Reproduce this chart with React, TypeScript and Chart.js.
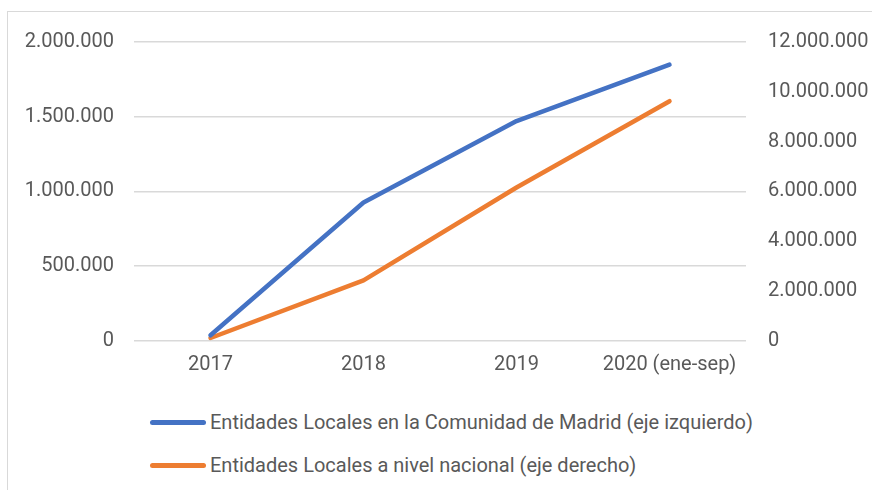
import React, { useEffect, useRef } from "react";
import { Chart, registerables } from "chart.js";

Chart.register(...registerables);

const categories = ["2017", "2018", "2019", "2020 (ene-sep)"];
const madridValues = [35000, 925000, 1470000, 1848000];
const nacionalValues = [100000, 2420000, 6150000, 9620000];
const leftTicks = [0, 500000, 1000000, 1500000, 2000000];
const rightTicks = [0, 2000000, 4000000, 6000000, 8000000, 10000000, 12000000];
const seriesNames = [
  "Entidades Locales en la Comunidad de Madrid (eje izquierdo)",
  "Entidades Locales a nivel nacional (eje derecho)",
];
const seriesColors = ["#4472C4", "#ED7D31"];

const FONT = "Roboto, 'Liberation Sans', sans-serif";
const FS = 20;
const TEXT = "#595959";

const fmt = (v: number) => Math.round(v).toString().replace(/\B(?=(\d{3})+(?!\d))/g, ".");

export default function App() {
  const ref = useRef<HTMLCanvasElement | null>(null);

  useEffect(() => {
    document.body.style.margin = "0";
    document.body.style.overflow = "hidden";
    const canvas = ref.current;
    if (!canvas) return;
    const chart = new Chart(canvas, {
      type: "line",
      data: {
        labels: categories,
        datasets: [
          {
            label: seriesNames[0],
            data: madridValues,
            borderColor: seriesColors[0],
            backgroundColor: seriesColors[0],
            borderWidth: 4.5,
            borderCapStyle: "round",
            borderJoinStyle: "round",
            pointRadius: 0,
            yAxisID: "y",
          },
          {
            label: seriesNames[1],
            data: nacionalValues,
            borderColor: seriesColors[1],
            backgroundColor: seriesColors[1],
            borderWidth: 4.5,
            borderCapStyle: "round",
            borderJoinStyle: "round",
            pointRadius: 0,
            yAxisID: "y1",
          },
        ],
      },
      options: {
        animation: false,
        responsive: false,
        maintainAspectRatio: false,
        layout: { padding: { top: 14, left: 0, right: 0, bottom: 0 } },
        plugins: { legend: { display: false }, tooltip: { enabled: false } },
        scales: {
          x: {
            offset: true,
            afterFit: (s: any) => {
              s.height = 51.5;
            },
            grid: { display: false, drawTicks: false },
            border: { display: false },
            ticks: {
              color: TEXT,
              font: { family: FONT, size: FS },
              padding: 12,
              maxRotation: 0,
              autoSkip: false,
            },
          },
          y: {
            position: "left",
            min: 0,
            max: 2000000,
            afterBuildTicks: (s: any) => {
              s.ticks = leftTicks.map((v) => ({ value: v }));
            },
            afterFit: (s: any) => {
              s.width = 126;
            },
            grid: { color: "#d9d9d9", lineWidth: 1.5, drawTicks: false },
            border: { display: false },
            ticks: {
              color: TEXT,
              font: { family: FONT, size: FS },
              padding: 20,
              callback: (v: any) => fmt(Number(v)),
            },
          },
          y1: {
            position: "right",
            min: 0,
            max: 12000000,
            afterBuildTicks: (s: any) => {
              s.ticks = rightTicks.map((v) => ({ value: v }));
            },
            afterFit: (s: any) => {
              s.width = 126;
            },
            grid: { display: false, drawTicks: false },
            border: { display: false },
            ticks: {
              color: TEXT,
              font: { family: FONT, size: FS },
              padding: 22,
              callback: (v: any) => fmt(Number(v)),
            },
          },
        },
      },
    });
    return () => chart.destroy();
  }, []);

  return (
    <div
      style={{
        position: "absolute",
        left: 7,
        top: 11,
        width: 865,
        height: 479,
        borderTop: "1px solid #d9d9d9",
        borderLeft: "1px solid #d9d9d9",
        background: "#fff",
        overflow: "hidden",
      }}
    >
      <canvas
        ref={ref}
        width={864}
        height={384}
        style={{ position: "absolute", left: 0, top: -4, display: "block", width: 864, height: 384 }}
      />
      {seriesNames.map((name, i) => (
        <div
          key={name}
          style={{
            position: "absolute",
            left: 142,
            top: 397 + i * 43,
            height: 26,
            display: "flex",
            alignItems: "center",
            fontFamily: FONT,
            fontSize: FS,
            color: TEXT,
            whiteSpace: "nowrap",
          }}
        >
          <span
            style={{
              display: "inline-block",
              width: 56,
              height: 5,
              borderRadius: 3,
              background: seriesColors[i],
              marginRight: 4,
            }}
          />
          <span>{name}</span>
        </div>
      ))}
    </div>
  );
}
